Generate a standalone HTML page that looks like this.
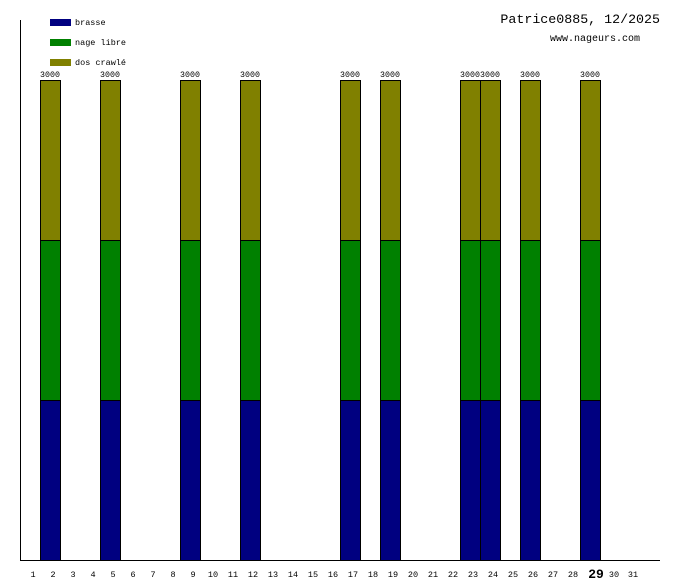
<!DOCTYPE html>
<html><head><meta charset="utf-8"><style>body{margin:0;background:#fff}svg{display:block}</style></head>
<body>
<svg width="680" height="580" xmlns="http://www.w3.org/2000/svg" font-family="Liberation Mono, monospace">
<rect width="680" height="580" fill="#fff"/>
<line x1="20.5" y1="20" x2="20.5" y2="560" stroke="#000"/>
<line x1="20" y1="560.5" x2="660" y2="560.5" stroke="#000"/>
<rect x="50" y="19" width="21" height="7" fill="#000080"/>
<rect x="50" y="39" width="21" height="7" fill="#008000"/>
<rect x="50" y="59" width="21" height="7" fill="#808000"/>
<g font-size="8.5" fill="#000">
<text x="75" y="25">brasse</text>
<text x="75" y="45">nage libre</text>
<text x="75" y="65">dos crawlé</text>
</g>
<text x="660" y="23" font-size="13.3" text-anchor="end">Patrice0885, 12/2025</text>
<text x="640" y="41" font-size="10" text-anchor="end">www.nageurs.com</text>
<g stroke="#000" stroke-width="1">
<script>/* none */</script>
</g>
<g id="bars"></g>
<g stroke="#000" stroke-width="1">
<!-- days: 2,5,9,12,17,19,23,24,26,29 -->
<g><rect x="40.5" y="80.5" width="20" height="160" fill="#808000"/><rect x="40.5" y="240.5" width="20" height="160" fill="#008000"/><rect x="40.5" y="400.5" width="20" height="160" fill="#000080"/></g>
<g><rect x="100.5" y="80.5" width="20" height="160" fill="#808000"/><rect x="100.5" y="240.5" width="20" height="160" fill="#008000"/><rect x="100.5" y="400.5" width="20" height="160" fill="#000080"/></g>
<g><rect x="180.5" y="80.5" width="20" height="160" fill="#808000"/><rect x="180.5" y="240.5" width="20" height="160" fill="#008000"/><rect x="180.5" y="400.5" width="20" height="160" fill="#000080"/></g>
<g><rect x="240.5" y="80.5" width="20" height="160" fill="#808000"/><rect x="240.5" y="240.5" width="20" height="160" fill="#008000"/><rect x="240.5" y="400.5" width="20" height="160" fill="#000080"/></g>
<g><rect x="340.5" y="80.5" width="20" height="160" fill="#808000"/><rect x="340.5" y="240.5" width="20" height="160" fill="#008000"/><rect x="340.5" y="400.5" width="20" height="160" fill="#000080"/></g>
<g><rect x="380.5" y="80.5" width="20" height="160" fill="#808000"/><rect x="380.5" y="240.5" width="20" height="160" fill="#008000"/><rect x="380.5" y="400.5" width="20" height="160" fill="#000080"/></g>
<g><rect x="460.5" y="80.5" width="20" height="160" fill="#808000"/><rect x="460.5" y="240.5" width="20" height="160" fill="#008000"/><rect x="460.5" y="400.5" width="20" height="160" fill="#000080"/></g>
<g><rect x="480.5" y="80.5" width="20" height="160" fill="#808000"/><rect x="480.5" y="240.5" width="20" height="160" fill="#008000"/><rect x="480.5" y="400.5" width="20" height="160" fill="#000080"/></g>
<g><rect x="520.5" y="80.5" width="20" height="160" fill="#808000"/><rect x="520.5" y="240.5" width="20" height="160" fill="#008000"/><rect x="520.5" y="400.5" width="20" height="160" fill="#000080"/></g>
<g><rect x="580.5" y="80.5" width="20" height="160" fill="#808000"/><rect x="580.5" y="240.5" width="20" height="160" fill="#008000"/><rect x="580.5" y="400.5" width="20" height="160" fill="#000080"/></g>
</g>
<g font-size="8.3" text-anchor="middle" fill="#000">
<text x="50" y="77">3000</text><text x="110" y="77">3000</text><text x="190" y="77">3000</text><text x="250" y="77">3000</text><text x="350" y="77">3000</text><text x="390" y="77">3000</text><text x="470" y="77">3000</text><text x="490" y="77">3000</text><text x="530" y="77">3000</text><text x="590" y="77">3000</text>
</g>
<g font-size="8.5" text-anchor="middle" fill="#000">
<text x="33" y="577">1</text><text x="53" y="577">2</text><text x="73" y="577">3</text><text x="93" y="577">4</text><text x="113" y="577">5</text><text x="133" y="577">6</text><text x="153" y="577">7</text><text x="173" y="577">8</text><text x="193" y="577">9</text><text x="213" y="577">10</text><text x="233" y="577">11</text><text x="253" y="577">12</text><text x="273" y="577">13</text><text x="293" y="577">14</text><text x="313" y="577">15</text><text x="333" y="577">16</text><text x="353" y="577">17</text><text x="373" y="577">18</text><text x="393" y="577">19</text><text x="413" y="577">20</text><text x="433" y="577">21</text><text x="453" y="577">22</text><text x="473" y="577">23</text><text x="493" y="577">24</text><text x="513" y="577">25</text><text x="533" y="577">26</text><text x="553" y="577">27</text><text x="573" y="577">28</text>
<text x="596" y="578" font-size="13" font-weight="bold">29</text>
<text x="614" y="577">30</text><text x="633" y="577">31</text>
</g>
</svg>
</body></html>
